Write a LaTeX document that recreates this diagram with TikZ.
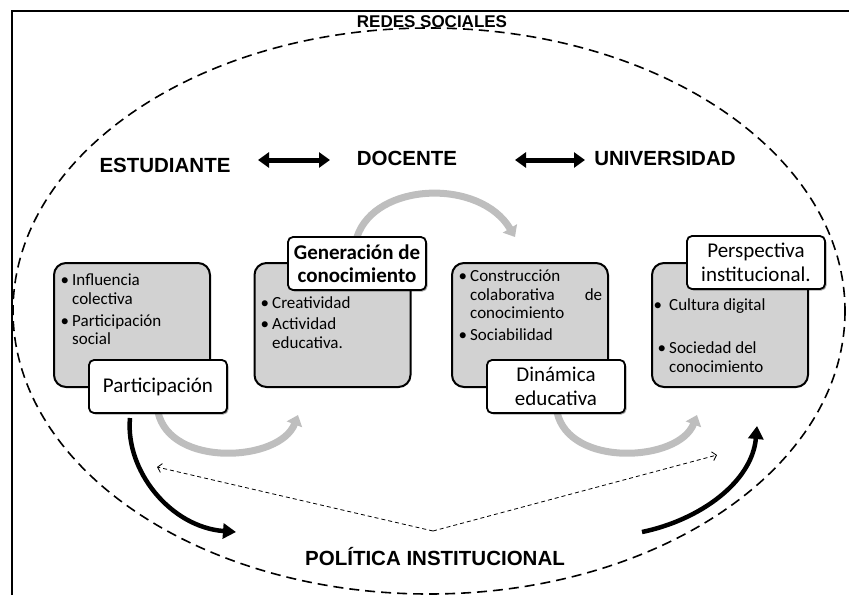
\documentclass[tikz,border=0pt]{standalone}
\usepackage{fontspec}
\setmainfont{Carlito}
\newfontfamily\hdrfont{Liberation Sans}
\usetikzlibrary{arrows.meta,shadows}
\definecolor{cardgray}{RGB}{210,210,210}
\definecolor{arcgray}{RGB}{190,190,190}
\newcommand{\bul}{\llap{\textbullet\hspace{3pt}}}
\begin{document}
\begin{tikzpicture}[x=1pt,y=-1pt,
  card/.style={draw=black, line width=2pt, fill=cardgray, rounded corners=12pt,
    minimum width=156pt, minimum height=124pt, inner sep=0pt},
  tag/.style={draw=black, line width=1.8pt, fill=white, rounded corners=5pt,
    minimum width=138pt, minimum height=53pt, inner sep=1pt, align=center,
    font=\fontsize{21}{23.5}\selectfont,
    drop shadow={shadow xshift=1.5pt, shadow yshift=-1.5pt, fill=black, opacity=.35}},
  items/.style={anchor=north west, inner sep=0pt, align=left,
    font=\fontsize{17}{18.5}\selectfont},
  hdr/.style={inner sep=0pt, font=\hdrfont\bfseries\fontsize{20.5}{24}\selectfont},
  dbl/.style={line width=5pt, {Triangle[length=11pt,width=15pt]}-{Triangle[length=11pt,width=15pt]}},
  grayarc/.style={draw=arcgray, line width=7pt, -{Triangle[length=10pt,width=16pt]}},
  blackarc/.style={line width=4.5pt, -{Triangle[length=13pt,width=15pt]}},
  thindash/.style={line width=0.8pt, dash pattern=on 4pt off 3pt, -{Straight Barb[length=4pt,width=9pt]}}
]
\useasboundingbox (0,0) rectangle (849,595);
% frame (only top and left visible)
\draw[line width=2.5pt] (12,595) -- (12,11) -- (849,11);
% dashed ellipse
\draw[line width=1.6pt, dash pattern=on 10pt off 6pt] (429,311) ellipse [x radius=416, y radius=283];

% headers
\node[hdr, font=\hdrfont\bfseries\fontsize{17}{20}\selectfont] (redes) at (432,22) {REDES SOCIALES};
\node[hdr] (est) at (165,165) {ESTUDIANTE};
\node[hdr] (doc) at (407,158) {DOCENTE};
\node[hdr] (uni) at (665,158) {UNIVERSIDAD};
\node[hdr] (pol) at (435,557) {POLÍTICA INSTITUCIONAL};

\coordinate (d1a) at (258,160); \coordinate (d1b) at (330,160);
\coordinate (d2a) at (515,160); \coordinate (d2b) at (585,160);
\draw[dbl] (d1a) -- (d1b);
\draw[dbl] (d2a) -- (d2b);

% cards
\node[card] (c1) at (132,325) {};
\node[card] (c2) at (332.5,325) {};
\node[card] (c3) at (530,325) {};
\node[card] (c4) at (730,325) {};

\node[items] (t1) at (72,274) {\bul Influencia\\colectiva\\[3.5pt]\bul Participación\\social};
\node[items] (t2) at (272,296) {\bul Creatividad\\[3pt]\bul Actividad\\educativa.};
\node[items] (t3) at (470,270) {\bul Construcción\\\makebox[132pt][s]{colaborativa\hfill de}\\conocimiento\\[3pt]\bul Sociabilidad};
\node[items] (t4) at (669,298) {\llap{\textbullet\hspace{7pt}}Cultura digital\\[25pt]\bul Sociedad del\\conocimiento};

% gray cycle arcs
\coordinate (g1a) at (158,412); \coordinate (g1b) at (298,415);
\coordinate (g2a) at (357,237); \coordinate (g2b) at (515,237);
\coordinate (g3a) at (557,412); \coordinate (g3b) at (697,415);
\draw[grayarc] (g1a) .. controls (170,468) and (280,462) .. (g1b);
\draw[grayarc] (g2a) .. controls (375,182) and (480,178) .. (g2b);
\draw[grayarc] (g3a) .. controls (569,468) and (679,462) .. (g3b);

% tags
\node[tag] (l1) at (158,386.5) {Participación};
\node[tag] (l2) at (357,263.5) {\textbf{Generación de}\\\textbf{conocimiento}};
\node[tag] (l3) at (556,386.5) {Dinámica\\educativa};
\node[tag] (l4) at (756,262.5) {Perspectiva\\institucional.};

% black curved arrows
\coordinate (b1a) at (130,418); \coordinate (b1b) at (236,532);
\coordinate (b2a) at (642,532); \coordinate (b2b) at (757,426);
\draw[blackarc] (b1a) .. controls (125,470) and (170,527) .. (b1b);
\draw[blackarc] (b2a) .. controls (700,520) and (752,482) .. (b2b);

% thin dashed arrows
\coordinate (apex) at (433,531);
\coordinate (dl) at (157,467);
\coordinate (dr) at (717,455);
\draw[thindash] (apex) -- (dl);
\draw[thindash] (apex) -- (dr);
\end{tikzpicture}
\end{document}
